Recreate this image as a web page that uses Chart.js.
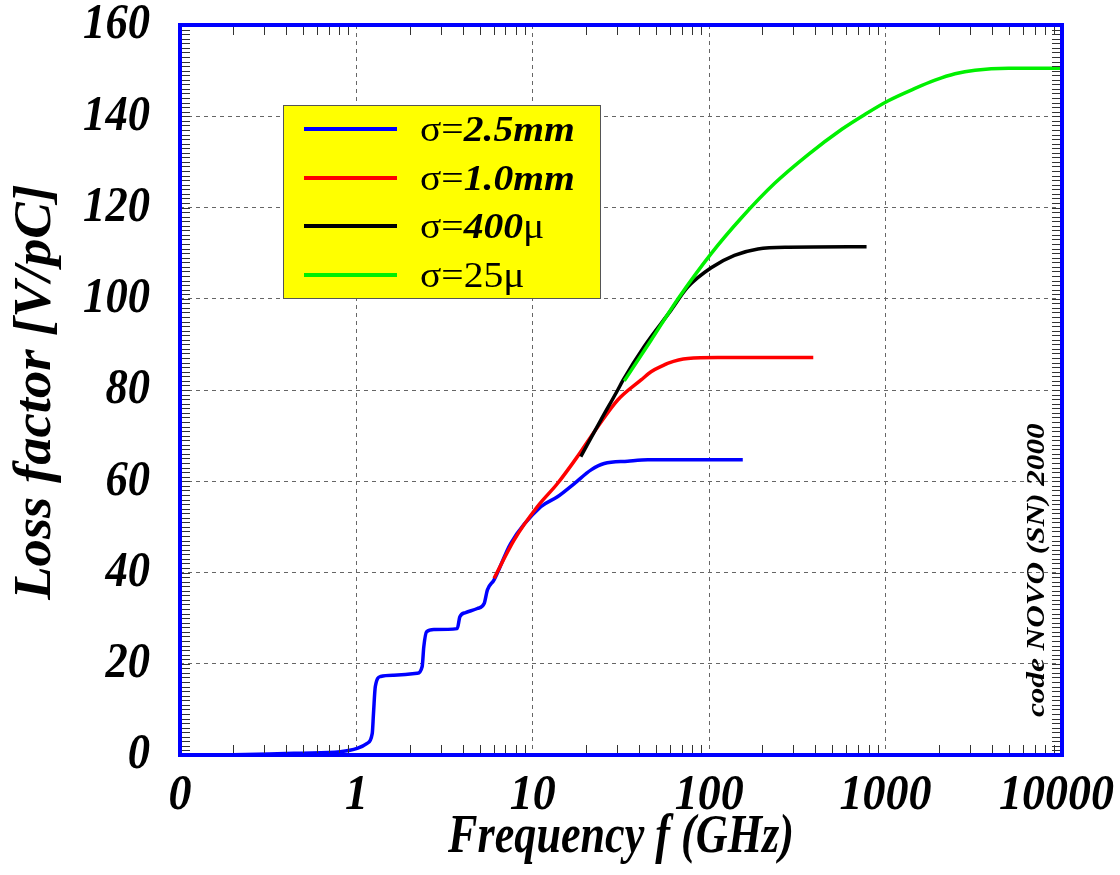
<!DOCTYPE html>
<html>
<head>
<meta charset="utf-8">
<title>Loss factor vs frequency</title>
<script src="https://cdn.jsdelivr.net/npm/chart.js@4/dist/chart.umd.min.js"></script>
<style>
  html, body { margin: 0; padding: 0; background: #ffffff; }
  #wrap { width: 1120px; height: 875px; position: relative; }
  canvas { display: block; }
</style>
</head>
<body>
<div id="wrap"><canvas id="chart" width="1120" height="875"></canvas></div>
<script>
// ---- data: loss factor [V/pC] against frequency [GHz] for four bunch lengths ----
const seriesLabels = ['σ=2.5mm', 'σ=1.0mm', 'σ=400μ', 'σ=25μ'];

const freqA = [0.1, 0.2, 0.32, 0.48, 0.81, 1.01, 1.15, 1.23, 1.25, 1.28, 1.37, 1.63, 2.21, 2.36, 2.41, 2.5, 2.75, 3.73, 3.86, 4.16, 4.85, 5.3, 5.53, 6.03, 7.5, 11.1, 13.8, 17.2, 21.4, 25.4, 34.5, 44.9, 155];
const lossA = [0, 0.05, 0.2, 0.4, 0.73, 1.46, 2.56, 4.75, 9.1, 15.0, 17.2, 17.5, 17.9, 19.4, 23.7, 27.0, 27.5, 27.7, 30.3, 31.2, 32.1, 33.2, 36.2, 38.4, 46.4, 54.4, 56.6, 59.5, 62.5, 63.9, 64.4, 64.7, 64.7];

const freqB = [6.03, 7.83, 10.6, 13.8, 17.9, 23.3, 30.3, 41.1, 46.8, 55.7, 58.6, 75.7, 112, 389];
const lossB = [38.7, 47.1, 54.4, 59.5, 65.4, 71.9, 77.8, 82.2, 84.0, 85.5, 85.9, 86.9, 87.1, 87.1];

const freqC = [18.7, 24.3, 30.3, 32.3, 42.9, 60.8, 75.7, 102.6, 139, 189, 280, 780];
const lossC = [65.4, 73.4, 80.0, 82.0, 89.6, 97.5, 102.6, 106.8, 109.5, 110.9, 111.3, 111.4];

const freqD = [33.0, 46.8, 66.6, 102.6, 152, 235, 364, 562, 763, 1036, 1468, 1906, 2475, 3216, 4977, 10000];
const lossD = [82.0, 90.9, 100.0, 109.9, 117.7, 125.3, 131.6, 137.1, 140.4, 143.4, 146.1, 147.9, 149.3, 150.1, 150.5, 150.5];

const xTickValues = [0.1, 1, 10, 100, 1000, 10000];
const xTickLabels = ['0', '1', '10', '100', '1000', '10000'];
const yTickValues = [0, 20, 40, 60, 80, 100, 120, 140, 160];

const xTitle = 'Frequency f (GHz)';
const yTitle = 'Loss factor [V/pC]';
const stamp = 'code NOVO (SN) 2000';

// legend text pieces: [text, style]  n = upright regular, bi = bold italic
const legendParts = [
  [['σ=', 'n'], ['2.5mm', 'bi']],
  [['σ=', 'n'], ['1.0mm', 'bi']],
  [['σ=', 'n'], ['400', 'bi'], ['μ', 'n']],
  [['σ=25μ', 'n']]
];

const colours = ['#0000ff', '#ff0000', '#000000', '#00f000'];

function pts(fx, fy) { return fx.map((f, i) => ({ x: f, y: fy[i] })); }

const SERIF = "'Liberation Serif', 'DejaVu Serif', serif";

const datasets = [
  { label: seriesLabels[0], data: pts(freqA, lossA), borderColor: colours[0], order: 4 },
  { label: seriesLabels[1], data: pts(freqB, lossB), borderColor: colours[1], order: 3 },
  { label: seriesLabels[2], data: pts(freqC, lossC), borderColor: colours[2], order: 2 },
  { label: seriesLabels[3], data: pts(freqD, lossD), borderColor: colours[3], order: 1 }
].map(d => Object.assign(d, {
  borderWidth: 3.5, pointRadius: 0, fill: false,
  cubicInterpolationMode: 'monotone', borderCapStyle: 'butt'
}));

// text drawn with its own horizontal / vertical stretch and optional rotation
function stretchedText(ctx, text, x, y, sx, sy, rot) {
  ctx.save();
  ctx.translate(x, y);
  if (rot) ctx.rotate(rot);
  ctx.scale(sx, sy);
  ctx.fillText(text, 0, 0);
  ctx.restore();
}

// frame, minor ticks, labels, legend and stamp drawn on top of the plot
const decorations = {
  id: 'decorations',
  afterDatasetsDraw(chart) {
    const { ctx, chartArea: a, scales: { x, y } } = chart;
    ctx.save();

    // minor ticks on all four sides, pointing inward
    ctx.strokeStyle = '#333333';
    ctx.lineWidth = 1;
    ctx.beginPath();
    for (let d = -1; d < 4; d++) {
      for (let m = 2; m <= 9; m++) {
        const px = Math.round(x.getPixelForValue(m * Math.pow(10, d))) + 0.5;
        ctx.moveTo(px, a.bottom); ctx.lineTo(px, a.bottom - 10);
        ctx.moveTo(px, a.top); ctx.lineTo(px, a.top + 10);
      }
    }
    for (let v = 1; v < 160; v++) {
      const py = Math.round(y.getPixelForValue(v)) + 0.5;
      ctx.moveTo(a.left, py); ctx.lineTo(a.left + 10, py);
      ctx.moveTo(a.right, py); ctx.lineTo(a.right - 10, py);
    }
    ctx.stroke();

    // blue frame
    ctx.strokeStyle = '#0000ff';
    ctx.lineWidth = 4;
    ctx.strokeRect(a.left, a.top, a.right - a.left, a.bottom - a.top);

    // tick labels
    ctx.fillStyle = '#000000';
    ctx.font = 'bold italic 46px ' + SERIF;
    ctx.textBaseline = 'middle';
    ctx.textAlign = 'center';
    xTickValues.forEach((v, i) => {
      const w = ctx.measureText(xTickLabels[i]).width;
      let cx = x.getPixelForValue(v);
      cx = Math.min(cx, 1114 - w / 2);
      stretchedText(ctx, xTickLabels[i], cx, a.bottom + 41, 1, 1.12);
    });
    ctx.textAlign = 'right';
    yTickValues.forEach(v => {
      stretchedText(ctx, String(v), a.left - 30, y.getPixelForValue(v), 0.97, 1.12);
    });

    // axis titles
    ctx.font = 'bold italic 46px ' + SERIF;
    ctx.textAlign = 'center';
    stretchedText(ctx, xTitle, (a.left + a.right) / 2, a.bottom + 83, 0.96, 1.2);
    ctx.font = 'bold italic 52px ' + SERIF;
    stretchedText(ctx, yTitle, 37, (a.top + a.bottom) / 2 + 2, 1.05, 1, -Math.PI / 2);

    // stamp along the right edge
    ctx.font = 'bold italic 26px ' + SERIF;
    ctx.textAlign = 'center';
    ctx.textBaseline = 'alphabetic';
    stretchedText(ctx, stamp, a.right - 18, y.getPixelForValue(40.5), 1.2, 1, -Math.PI / 2);

    // legend box
    const bx = 283, by = 105, bw = 317, bh = 193;
    ctx.fillStyle = '#ffff00';
    ctx.fillRect(bx, by, bw, bh);
    ctx.strokeStyle = '#555555';
    ctx.lineWidth = 1;
    ctx.strokeRect(bx + 0.5, by + 0.5, bw, bh);
    const rowY = [129, 178, 226, 275];
    const sx = 1.1;
    chart.data.datasets.forEach((ds, i) => {
      const ry = rowY[i];
      ctx.strokeStyle = ds.borderColor;
      ctx.lineWidth = 4;
      ctx.beginPath();
      ctx.moveTo(304, ry); ctx.lineTo(397, ry);
      ctx.stroke();
      let tx = 420;
      ctx.fillStyle = '#000000';
      ctx.textAlign = 'left';
      ctx.textBaseline = 'alphabetic';
      legendParts[i].forEach(([t, s]) => {
        ctx.font = (s === 'bi' ? 'bold italic ' : '') + '36px ' + SERIF;
        stretchedText(ctx, t, tx, ry + 12, sx, 1);
        tx += ctx.measureText(t).width * sx;
      });
    });

    ctx.restore();
  }
};

new Chart(document.getElementById('chart'), {
  type: 'line',
  data: { datasets },
  options: {
    responsive: false,
    devicePixelRatio: 1,
    animation: false,
    layout: { padding: { left: 180, right: 58, top: 25, bottom: 120 } },
    plugins: { legend: { display: false }, tooltip: { enabled: false } },
    scales: {
      x: {
        type: 'logarithmic', min: 0.1, max: 10000,
        afterBuildTicks: s => { s.ticks = [1, 10, 100, 1000].map(v => ({ value: v })); },
        ticks: { display: false },
        grid: { color: '#666666', lineWidth: 1, drawTicks: false },
        border: { display: false, dash: [4, 4] }
      },
      y: {
        type: 'linear', min: 0, max: 160,
        afterBuildTicks: s => { s.ticks = [20, 40, 60, 80, 100, 120, 140].map(v => ({ value: v })); },
        ticks: { display: false },
        grid: { color: '#666666', lineWidth: 1, drawTicks: false },
        border: { display: false, dash: [4, 4] }
      }
    }
  },
  plugins: [decorations]
});
</script>
</body>
</html>
